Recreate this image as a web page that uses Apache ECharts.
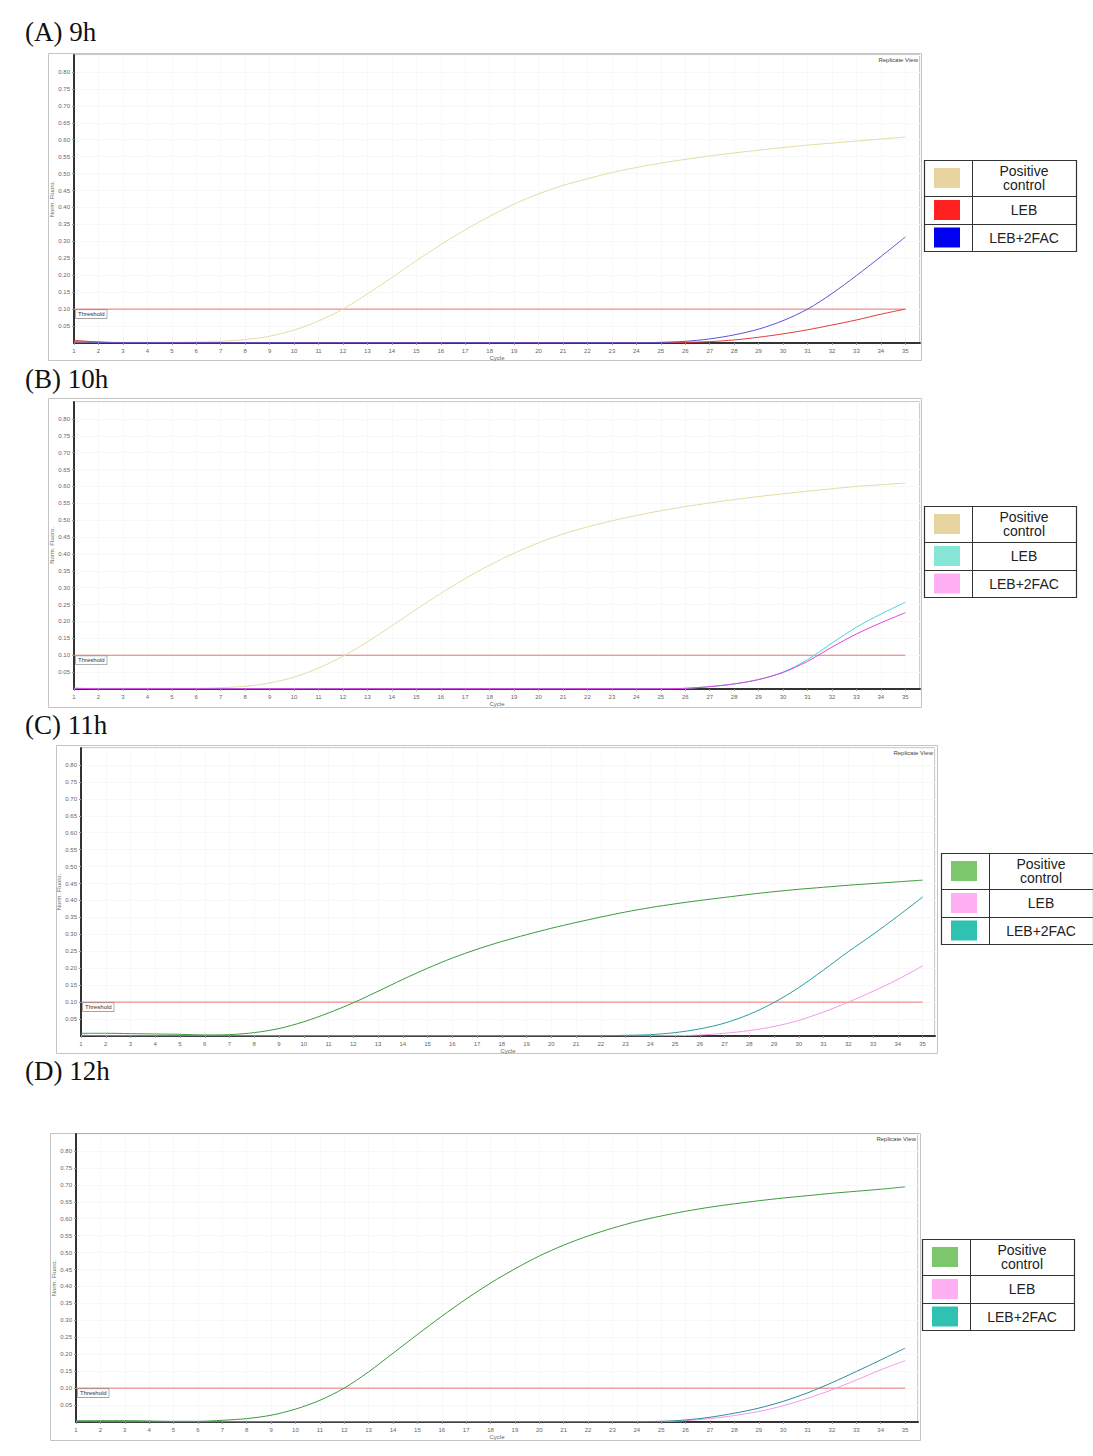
<!DOCTYPE html>
<html><head><meta charset="utf-8">
<script src="https://cdn.jsdelivr.net/npm/echarts@6/dist/echarts.min.js"></script>
<style>html,body{margin:0;padding:0;background:#fff}#c{width:1093px;height:1456px}</style>
</head><body><div id="c"></div>
<script>
// ---------------- DATA ----------------
const cycles = [1,2,3,4,5,6,7,8,9,10,11,12,13,14,15,16,17,18,19,20,21,22,23,24,25,26,27,28,29,30,31,32,33,34,35];
const threshold = 0.1;
const titles = ['(A) 9h', '(B) 10h', '(C) 11h', '(D) 12h'];
const seriesNames = ['Positive control', 'LEB', 'LEB+2FAC'];
const legendLines = [['Positive', 'control'], ['LEB'], ['LEB+2FAC']];

// (A) 9h
const pcA  = [0.003,0.003,0.002,0.002,0.002,0.003,0.005,0.010,0.020,0.038,0.065,0.100,0.145,0.193,0.243,0.290,0.334,0.374,0.410,0.440,0.465,0.485,0.503,0.518,0.531,0.542,0.552,0.561,0.569,0.577,0.584,0.590,0.596,0.602,0.608];
const lebA = [0.008,0.003,0.001,0.001,0.001,0.001,0.001,0.001,0.001,0.001,0.001,0.001,0.001,0.001,0.001,0.001,0.001,0.001,0.001,0.001,0.001,0.001,0.001,0.001,0.001,0.002,0.004,0.009,0.017,0.027,0.039,0.053,0.068,0.085,0.100];
const facA = [0.004,0.002,0.001,0.001,0.001,0.001,0.001,0.001,0.001,0.001,0.001,0.001,0.001,0.001,0.001,0.001,0.001,0.001,0.001,0.001,0.001,0.001,0.001,0.001,0.002,0.005,0.012,0.024,0.041,0.066,0.100,0.146,0.199,0.255,0.313];
// (B) 10h
const pcB  = [0.002,0.002,0.002,0.002,0.002,0.002,0.004,0.008,0.018,0.035,0.062,0.097,0.140,0.187,0.236,0.283,0.327,0.367,0.402,0.433,0.459,0.480,0.498,0.514,0.528,0.540,0.551,0.561,0.570,0.578,0.586,0.593,0.600,0.605,0.610];
const lebB = [0.002,0.001,0.001,0.001,0.001,0.001,0.001,0.001,0.001,0.001,0.001,0.001,0.001,0.001,0.001,0.001,0.001,0.001,0.001,0.001,0.001,0.001,0.001,0.001,0.001,0.002,0.007,0.015,0.028,0.050,0.087,0.136,0.183,0.222,0.257];
const facB = [0.002,0.001,0.001,0.001,0.001,0.001,0.001,0.001,0.001,0.001,0.001,0.001,0.001,0.001,0.001,0.001,0.001,0.001,0.001,0.001,0.001,0.001,0.001,0.001,0.001,0.002,0.007,0.015,0.028,0.049,0.082,0.124,0.163,0.196,0.226];
// (C) 11h
const pcC  = [0.008,0.008,0.007,0.006,0.005,0.003,0.004,0.010,0.022,0.042,0.068,0.098,0.132,0.167,0.200,0.230,0.256,0.279,0.299,0.318,0.335,0.351,0.366,0.379,0.390,0.400,0.409,0.418,0.426,0.433,0.439,0.445,0.450,0.455,0.460];
const lebC = [0.002,0.001,0.001,0.001,0.001,0.001,0.001,0.001,0.001,0.001,0.001,0.001,0.001,0.001,0.001,0.001,0.001,0.001,0.001,0.001,0.001,0.001,0.001,0.001,0.001,0.003,0.008,0.016,0.028,0.046,0.071,0.100,0.132,0.167,0.207];
const facC = [0.002,0.001,0.001,0.001,0.001,0.001,0.001,0.001,0.001,0.001,0.001,0.001,0.001,0.001,0.001,0.001,0.001,0.001,0.001,0.001,0.001,0.001,0.002,0.004,0.010,0.021,0.038,0.064,0.099,0.143,0.195,0.249,0.300,0.354,0.410];
// (D) 12h
const pcD  = [0.004,0.004,0.004,0.003,0.002,0.002,0.005,0.010,0.020,0.038,0.064,0.100,0.148,0.203,0.258,0.312,0.363,0.410,0.452,0.490,0.522,0.549,0.572,0.592,0.608,0.622,0.634,0.644,0.653,0.661,0.668,0.675,0.681,0.687,0.694];
const lebD = [0.002,0.001,0.001,0.001,0.001,0.001,0.001,0.001,0.001,0.001,0.001,0.001,0.001,0.001,0.001,0.001,0.001,0.001,0.001,0.001,0.001,0.001,0.001,0.001,0.001,0.004,0.010,0.019,0.031,0.048,0.070,0.095,0.124,0.154,0.181];
const facD = [0.002,0.001,0.001,0.001,0.001,0.001,0.001,0.001,0.001,0.001,0.001,0.001,0.001,0.001,0.001,0.001,0.001,0.001,0.001,0.001,0.001,0.001,0.001,0.001,0.002,0.006,0.014,0.026,0.041,0.061,0.086,0.116,0.149,0.183,0.218];

// ---------------- LAYOUT / STYLE ----------------
const panels = [
  { data: [pcA, lebA, facA], line: ['#e4dca2', '#e03a3a', '#5a55d0'], swatch: ['#e8d49e', '#ff2020', '#0000f0'],
    grid: { left: 74, top: 55, width: 846, height: 288 }, xMax: 35.6, frame: [48, 53, 873, 307], legend: [924, 160], titleY: 34, replicate: true },
  { data: [pcB, lebB, facB], line: ['#e4dca2', '#45d6d6', '#dd44dd'], swatch: ['#e8d49e', '#86e6d6', '#ffb0f4'],
    grid: { left: 74, top: 402, width: 846, height: 287 }, xMax: 35.6, frame: [48, 398, 873, 309], legend: [924, 506], titleY: 381, replicate: false },
  { data: [pcC, lebC, facC], line: ['#3c9a3c', '#f29ae6', '#2a9c9c'], swatch: ['#7dc76d', '#ffb0f4', '#30c2b0'],
    grid: { left: 81, top: 748, width: 854, height: 288 }, xMax: 35.5, frame: [56, 745, 881, 308], legend: [941, 853], titleY: 727, replicate: true },
  { data: [pcD, lebD, facD], line: ['#3c9a3c', '#f29ae6', '#2a8c9c'], swatch: ['#7dc76d', '#ffb0f4', '#30c2b0'],
    grid: { left: 76, top: 1134, width: 842, height: 288 }, xMax: 35.53, frame: [50, 1133, 870, 307], legend: [922, 1239], titleY: 1073, replicate: true }
];

const tickFont = { fontFamily: 'Liberation Sans', fontSize: 6, color: '#666' };

const grids = [], xAxes = [], yAxes = [], series = [], graphics = [];
panels.forEach((p, i) => {
  grids.push(Object.assign({ show: true, borderColor: '#9a9a9a', borderWidth: 1, backgroundColor: '#fff' }, p.grid));
  xAxes.push({
    type: 'value', gridIndex: i, min: 1, max: p.xMax, interval: 1,
    name: 'Cycle', nameLocation: 'middle', nameGap: 12, nameMoveOverlap: false,
    nameTextStyle: Object.assign({}, tickFont),
    axisLine: { show: true, onZero: false, lineStyle: { color: '#333', width: 2 } },
    axisTick: { show: true, length: 2, lineStyle: { color: '#999' } },
    axisLabel: Object.assign({ margin: 5, showMaxLabel: false,
      formatter: v => (Number.isInteger(v) ? String(v) : '') }, tickFont),
    splitLine: { show: true, lineStyle: { color: '#f8f8f8', width: 1 } }
  });
  yAxes.push({
    type: 'value', gridIndex: i, min: 0, max: 0.85, interval: 0.05,
    name: 'Norm. Fluoro.', nameLocation: 'middle', nameGap: 19, nameMoveOverlap: false,
    nameTextStyle: Object.assign({}, tickFont),
    axisLine: { show: true, onZero: false, lineStyle: { color: '#333', width: 2 } },
    axisTick: { show: true, length: 2, lineStyle: { color: '#999' } },
    axisLabel: Object.assign({ margin: 4, showMinLabel: false, showMaxLabel: false,
      formatter: v => (v < 0.001 || v > 0.81 ? '' : v.toFixed(2)) }, tickFont),
    splitLine: { show: true, lineStyle: { color: '#f8f8f8', width: 1 } }
  });
  series.push({
    type: 'line', name: 'Threshold', xAxisIndex: i, yAxisIndex: i, symbol: 'none', silent: true,
    data: [[cycles[0], threshold], [cycles[cycles.length - 1], threshold]],
    lineStyle: { color: '#f07272', width: 1 }, z: 2
  });
  p.data.forEach((arr, k) => {
    series.push({
      type: 'line', name: seriesNames[k], xAxisIndex: i, yAxisIndex: i, symbol: 'none', smooth: 0.3,
      data: cycles.map((c, j) => [c, arr[j]]),
      lineStyle: { color: p.line[k], width: 1 }, z: 3 + k
    });
  });

  // title
  graphics.push({ type: 'text', left: 25, top: p.titleY - 16, style: { text: titles[i], font: '27px "Liberation Serif"', fill: '#111' } });
  // outer frame
  graphics.push({ type: 'rect', shape: { x: p.frame[0] + 0.5, y: p.frame[1] + 0.5, width: p.frame[2], height: p.frame[3] },
    style: { fill: 'none', stroke: '#c4c4c4', lineWidth: 1 }, z: -1 });
  // replicate view
  if (p.replicate) {
    graphics.push({ type: 'text', x: p.grid.left + p.grid.width - 2, y: p.grid.top + 2,
      style: { text: 'Replicate View', font: '6px "Liberation Sans"', fill: '#444', textAlign: 'right', textVerticalAlign: 'top' }, z: 10 });
  }
  // legend table
  const [lx, ly] = p.legend;
  const rowTop = [0, 36, 64], rowH = [36, 28, 27];
  const children = [
    { type: 'rect', shape: { x: 0.5, y: 0.5, width: 152, height: 91 }, style: { fill: '#fff', stroke: '#333', lineWidth: 1.2 } },
    { type: 'line', shape: { x1: 48.5, y1: 0.5, x2: 48.5, y2: 91.5 }, style: { stroke: '#333', lineWidth: 1 } },
    { type: 'line', shape: { x1: 0.5, y1: 36.5, x2: 152.5, y2: 36.5 }, style: { stroke: '#333', lineWidth: 1 } },
    { type: 'line', shape: { x1: 0.5, y1: 64.5, x2: 152.5, y2: 64.5 }, style: { stroke: '#333', lineWidth: 1 } }
  ];
  for (let k = 0; k < 3; k++) {
    children.push({ type: 'rect', shape: { x: 10, y: rowTop[k] + (rowH[k] - 20) / 2, width: 26, height: 20 }, style: { fill: p.swatch[k] } });
    const lines = legendLines[k];
    lines.forEach((t, m) => {
      const cy = rowTop[k] + rowH[k] / 2 + (lines.length === 2 ? (m === 0 ? -7 : 7) : 0);
      children.push({ type: 'text', x: 100, y: cy,
        style: { text: t, font: '14px "Liberation Sans"', fill: '#222', textAlign: 'center', textVerticalAlign: 'middle' } });
    });
  }
  graphics.push({ type: 'group', x: lx, y: ly, children: children, z: 20 });
});

const chart = echarts.init(document.getElementById('c'), null, { renderer: 'svg', width: 1093, height: 1456 });
chart.setOption({
  backgroundColor: '#fff',
  animation: false,
  grid: grids, xAxis: xAxes, yAxis: yAxes, series: series, graphic: graphics
});

// Threshold labels placed through the axis scales
const extra = panels.map((p, i) => {
  const pt = chart.convertToPixel({ xAxisIndex: i, yAxisIndex: i }, [cycles[0], threshold]);
  return { type: 'text', x: pt[0] + 2, y: pt[1] + 1,
    style: { text: 'Threshold', font: '6px "Liberation Sans"', fill: '#333', textVerticalAlign: 'top',
      backgroundColor: '#fff', borderColor: '#777', borderWidth: 0.6, padding: [1, 2] }, z: 15 };
});
chart.setOption({ graphic: graphics.concat(extra) });
</script>
</body></html>
